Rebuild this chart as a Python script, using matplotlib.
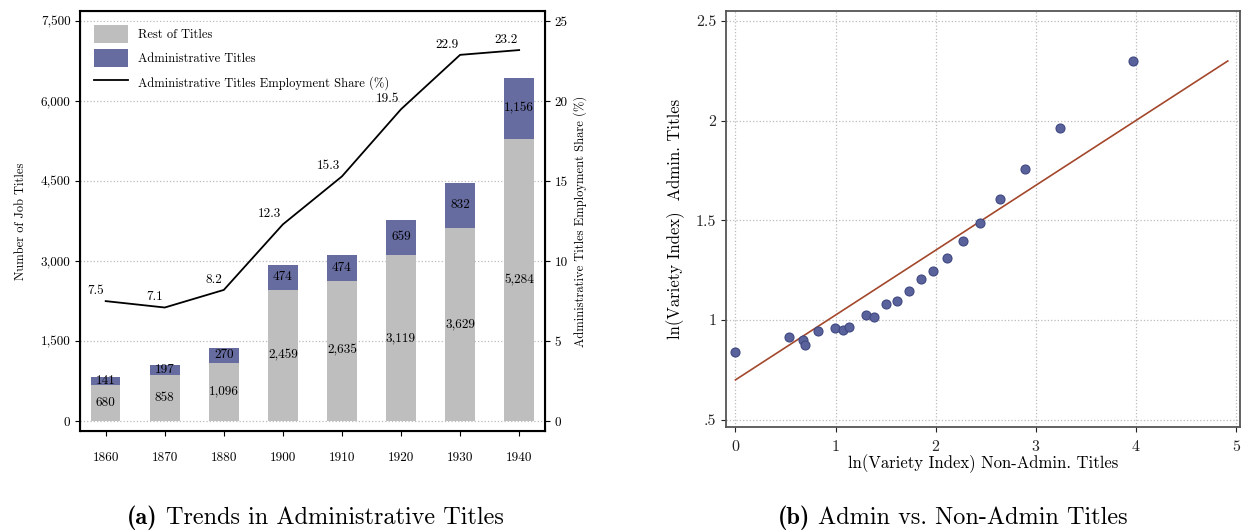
import numpy as np
import matplotlib.pyplot as plt
from matplotlib.patches import Patch
from matplotlib.lines import Line2D
from matplotlib.ticker import FuncFormatter

plt.rcParams['font.family'] = ['cmr10', 'DejaVu Serif']
plt.rcParams['mathtext.fontset'] = 'cm'
plt.rcParams['axes.unicode_minus'] = False

# panel (a) data
years = ['1860', '1870', '1880', '1900', '1910', '1920', '1930', '1940']
rest_titles = [680, 858, 1096, 2459, 2635, 3119, 3629, 5284]
admin_titles = [141, 197, 270, 474, 474, 659, 832, 1156]
admin_share = [7.5, 7.1, 8.2, 12.3, 15.3, 19.5, 22.9, 23.2]

# panel (b) data
ln_nonadmin = [0.00, 0.53, 0.67, 0.69, 0.82, 0.99, 1.07, 1.13, 1.30, 1.38, 1.50, 1.61,
               1.73, 1.85, 1.97, 2.11, 2.27, 2.44, 2.64, 2.89, 3.24, 3.97]
ln_admin = [0.838, 0.913, 0.900, 0.873, 0.943, 0.962, 0.951, 0.965, 1.025, 1.013, 1.080, 1.094,
            1.147, 1.204, 1.247, 1.312, 1.394, 1.488, 1.605, 1.755, 1.961, 2.300]
fit_intercept = 0.70
fit_slope = 0.325
fit_xmax = 4.92

gray = '#bebebe'
blue = '#666ba0'

fig = plt.figure(figsize=(12.41, 5.31), dpi=100)

# ---- (a) ----
ax = fig.add_axes([0.0647, 0.188, 0.3741, 0.791])
x = np.arange(len(years))
w = 0.5
ax.bar(x, rest_titles, width=w, color=gray, zorder=2)
ax.bar(x, admin_titles, width=w, bottom=rest_titles, color=blue, zorder=2)
for i in range(len(years)):
    ax.text(x[i], rest_titles[i] / 2, f'{rest_titles[i]:,}', ha='center', va='center', fontsize=9.5, zorder=3)
    ax.text(x[i], rest_titles[i] + admin_titles[i] / 2, f'{admin_titles[i]:,}', ha='center', va='center',
            fontsize=9.5, zorder=3)
ax.set_xlim(-0.43, 7.43)
ax.set_ylim(-190, 7690)
ax.set_yticks([0, 1500, 3000, 4500, 6000, 7500])
ax.yaxis.set_major_formatter(FuncFormatter(lambda v, p: f'{int(v):,}'))
ax.set_xticks(x)
ax.set_xticklabels(years)
ax.tick_params(axis='both', labelsize=9.5, length=3.6, width=0.8)
ax.tick_params(axis='x', pad=11)
ax.grid(axis='y', linestyle=':', color='#bbbbbb', linewidth=0.9, zorder=0)
ax.set_axisbelow(True)
ax.set_ylabel('Number of Job Titles', fontsize=9, labelpad=10)
for s in ax.spines.values():
    s.set_linewidth(1.5)

ax2 = ax.twinx()
ax2.plot(x, admin_share, color='black', linewidth=1.3, zorder=4)
for i in range(len(years)):
    ax2.annotate(f'{admin_share[i]}', (x[i], admin_share[i]), xytext=(-1, 3), textcoords='offset points',
                 ha='right', va='bottom', fontsize=9.5, zorder=7)
ax2.set_ylim(-190 / 300, 7690 / 300)
ax2.set_yticks([0, 5, 10, 15, 20, 25])
ax2.tick_params(axis='y', labelsize=9.5, length=3.6, width=0.8)
ax2.set_ylabel('Administrative Titles Employment Share (%)', fontsize=9)
ax2.set_xlim(-0.43, 7.43)

handles = [Patch(facecolor=gray, edgecolor='none'), Patch(facecolor=blue, edgecolor='none'),
           Line2D([], [], color='black', linewidth=1.3)]
labels = ['Rest of Titles', 'Administrative Titles', 'Administrative Titles Employment Share (%)']
leg = ax2.legend(handles, labels, loc='upper left', fontsize=9, frameon=True, edgecolor='none',
                 facecolor='white', framealpha=1, borderaxespad=0.9, borderpad=0.2, handlelength=2.7,
                 handleheight=1.8, labelspacing=0.55, handletextpad=0.8, fancybox=False)
leg.set_zorder(5)

# ---- (b) ----
bx = fig.add_axes([0.585, 0.196, 0.414, 0.783])
bx.scatter(ln_nonadmin, ln_admin, s=42, color='#5a629c', edgecolor='#3f4880', linewidth=0.8, zorder=3)
fx = np.array([0, fit_xmax])
bx.plot(fx, fit_intercept + fit_slope * fx, color='#a3482c', linewidth=1.2, zorder=2)
bx.set_xlim(-0.095, 5.04)
bx.set_ylim(0.464, 2.549)
bx.set_xticks([0, 1, 2, 3, 4, 5])
bx.set_yticks([0.5, 1, 1.5, 2, 2.5])
bx.set_yticklabels(['.5', '1', '1.5', '2', '2.5'])
bx.tick_params(axis='both', labelsize=11.5, length=3.6, width=0.8, colors='#222222')
bx.tick_params(axis='x', pad=6)
bx.grid(True, linestyle=':', color='#bbbbbb', linewidth=0.9, zorder=0)
bx.set_axisbelow(True)
bx.set_xlabel('ln(Variety Index) Non-Admin. Titles', fontsize=12, labelpad=0)
bx.set_ylabel('ln(Variety Index)  Admin. Titles', fontsize=12, labelpad=8)
for s in bx.spines.values():
    s.set_color('#555555')
    s.set_linewidth(1.3)

# captions: bold tag followed by plain text, centred as one line
renderer = fig.canvas.get_renderer()
for tag, rest, cx in [('(a)', 'Trends in Administrative Titles', 0.254),
                      ('(b)', 'Admin vs. Non-Admin Titles', 0.768)]:
    t1 = fig.text(0, 0.014, tag, fontsize=17.5, family=['cmb10', 'DejaVu Serif'], va='baseline')
    t2 = fig.text(0, 0.014, rest, fontsize=17.5, va='baseline')
    w1 = t1.get_window_extent(renderer).width / fig.bbox.width
    w2 = t2.get_window_extent(renderer).width / fig.bbox.width
    gap = 8 / fig.bbox.width
    x0 = cx - (w1 + gap + w2) / 2
    t1.set_x(x0)
    t2.set_x(x0 + w1 + gap)

plt.savefig('out.png', dpi=100)
